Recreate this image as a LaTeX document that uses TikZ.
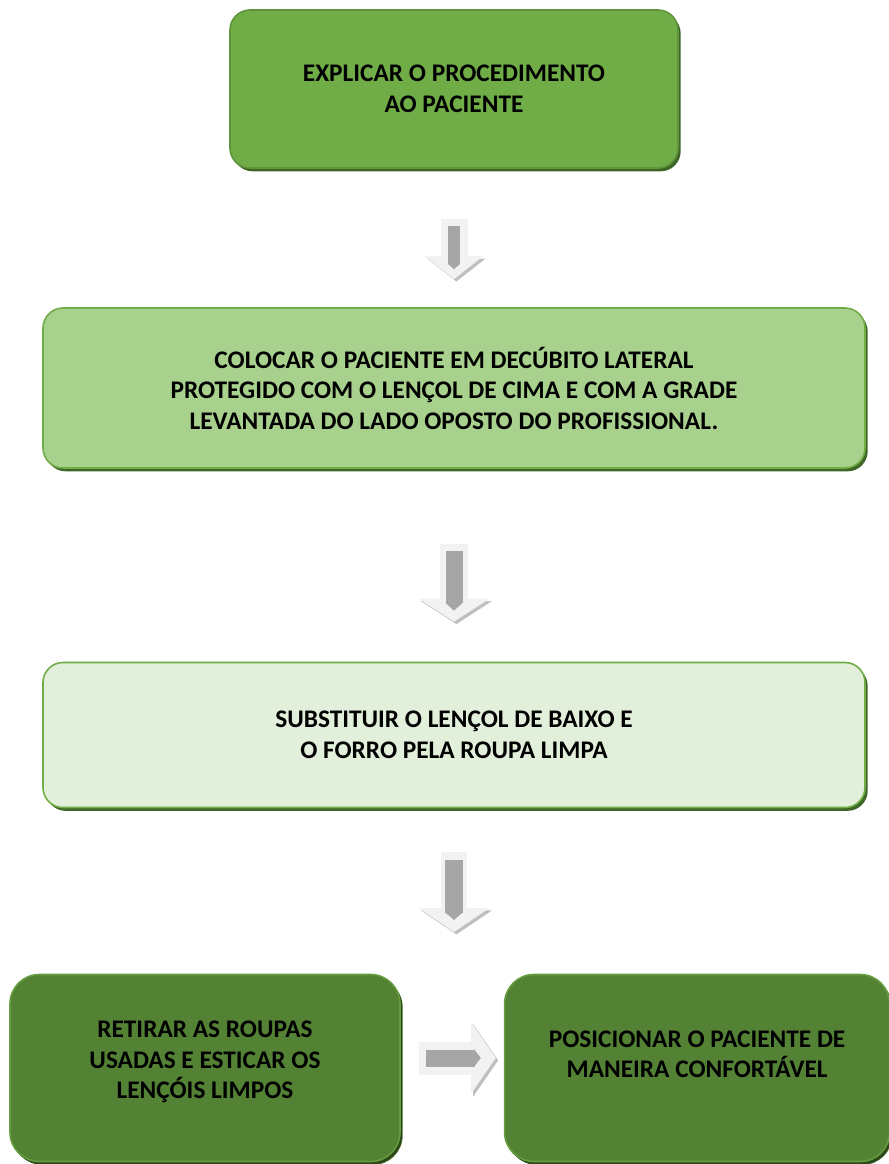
\documentclass[tikz,border=0pt]{standalone}
\usepackage{fontspec}
\setmainfont{Carlito}
\usetikzlibrary{arrows.meta,positioning,shadows}

\definecolor{verde}{HTML}{70AD47}
\definecolor{verdeclaro}{HTML}{A9D18E}
\definecolor{verdepalido}{HTML}{E2EFDA}
\definecolor{verdeescuro}{HTML}{548235}
\definecolor{sombra}{HTML}{3E6626}
\definecolor{sombraescura}{HTML}{2C4719}
\definecolor{setaclara}{HTML}{F2F2F2}
\definecolor{setasombra}{HTML}{BFBFBF}
\definecolor{setamiolo}{HTML}{A6A6A6}

\begin{document}
\begin{tikzpicture}[
  x=0.75pt, y=-0.75pt,
  caixa/.style={draw=verde, line width=1.2pt, rectangle, rounded corners=15pt, align=center,
    font=\bfseries\fontsize{19}{22.9}\selectfont,
    drop shadow={shadow xshift=2pt, shadow yshift=-2.5pt, fill=sombra, opacity=1}},
  caixafim/.style={caixa, draw=verde!90!black, rounded corners=22pt,
    drop shadow={shadow xshift=1.5pt, shadow yshift=-2pt, fill=sombraescura, opacity=1}},
  setafora/.style={draw=setaclara,
    preaction={draw=setasombra, transform canvas={shift={(1.8pt,-1.8pt)}}}},
  setadentro/.style={draw=setamiolo}
]
  \useasboundingbox (0,0) rectangle (889,1164);

  \node[caixa, fill=verde, draw=verde!85!black, minimum width=336pt, minimum height=118.5pt] (explicar) at (454,89)
    {EXPLICAR O PROCEDIMENTO\\AO PACIENTE};
  \node[caixa, fill=verdeclaro, minimum width=616.5pt, minimum height=120pt] (colocar) at (454,388)
    {COLOCAR O PACIENTE EM DECÚBITO LATERAL\\PROTEGIDO COM O LENÇOL DE CIMA E COM A GRADE\\LEVANTADA DO LADO OPOSTO DO PROFISSIONAL.};
  \node[caixa, fill=verdepalido, minimum width=616.5pt, minimum height=108.75pt] (substituir) at (454,735)
    {SUBSTITUIR O LENÇOL DE BAIXO E\\O FORRO PELA ROUPA LIMPA};
  \node[caixafim, fill=verdeescuro, minimum width=292.5pt, minimum height=140.25pt,
    text depth=12pt] (retirar) at (205,1068)
    {RETIRAR AS ROUPAS\\USADAS E ESTICAR OS\\LENÇÓIS LIMPOS};
  \node[caixafim, fill=verdeescuro, minimum width=288.75pt, minimum height=140.25pt,
    text depth=21pt, right=77.25pt of retirar] (posicionar)
    {POSICIONAR O PACIENTE DE\\MANEIRA CONFORTÁVEL};
  \coordinate (vao) at (454,975);

  % setas de bloco
  \draw[setafora, line width=20.25pt, shorten <=37.5pt, shorten >=21pt,
    -{Triangle[width=42.75pt, length=17.25pt]}] (explicar.south) -- (colocar.north);
  \draw[setadentro, line width=9pt, shorten <=42.75pt, shorten >=28.5pt,
    -{Triangle[width=9pt, length=4pt]}] (explicar.south) -- (colocar.north);

  \draw[setafora, line width=21pt, shorten <=56.25pt, shorten >=30pt,
    -{Triangle[width=52.5pt, length=17.25pt]}] (colocar.south) -- (substituir.north);
  \draw[setadentro, line width=12.75pt, shorten <=61.5pt, shorten >=38.25pt,
    -{Triangle[width=12.75pt, length=6pt]}] (colocar.south) -- (substituir.north);

  \draw[setafora, line width=19.5pt, shorten <=33pt, shorten >=32.25pt,
    -{Triangle[width=52.5pt, length=18pt]}] (substituir.south) -- (vao);
  \draw[setadentro, line width=13.5pt, shorten <=39pt, shorten >=41.25pt,
    -{Triangle[width=13.5pt, length=6pt]}] (substituir.south) -- (vao);

  \draw[setafora, line width=24.75pt, shorten <=13.5pt, shorten >=6pt,
    -{Triangle[width=53.25pt, length=18.75pt]}] ([yshift=7.5pt]retirar.east) -- ([yshift=7.5pt]posicionar.west);
  \draw[setadentro, line width=12.75pt, shorten <=18.75pt, shorten >=17.25pt,
    -{Triangle[width=12.75pt, length=5pt]}] ([yshift=7.5pt]retirar.east) -- ([yshift=7.5pt]posicionar.west);
\end{tikzpicture}
\end{document}
